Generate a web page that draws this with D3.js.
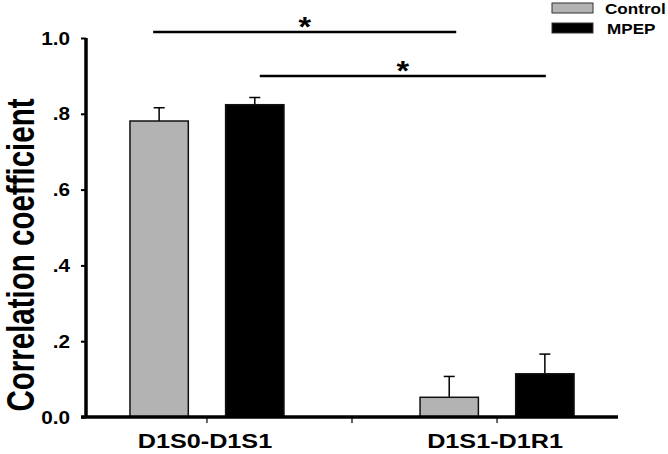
<!DOCTYPE html>
<html>
<head>
<meta charset="utf-8">
<script src="https://cdn.jsdelivr.net/npm/d3@7"></script>
<style>
  body { margin: 0; background: #fff; }
  svg { font-family: Arial, "Liberation Sans", sans-serif; font-weight: bold; }
</style>
</head>
<body>
<svg id="chart" width="668" height="454"></svg>
<script>
// data
const categories = ["D1S0-D1S1", "D1S1-D1R1"];
const series = ["Control", "MPEP"];
const colors = ["#b3b3b3", "#000000"];
const control = [0.781, 0.052];
const controlErr = [0.035, 0.055];
const mpep = [0.824, 0.114];
const mpepErr = [0.019, 0.052];
const yTicks = [0, 0.2, 0.4, 0.6, 0.8, 1.0];
const yTickLabels = ["0.0", ".2", ".4", ".6", ".8", "1.0"];
// significance brackets: which series, level of line
const sigSeries = ["Control", "MPEP"];
const sigLevel = [1.016, 0.900];

const svg = d3.select("#chart");
const x0 = 86, x1 = 618, yTop = 38, yBot = 417;

const y = d3.scaleLinear().domain([0, 1]).range([yBot, yTop]);
const x = d3.scalePoint().domain(categories).range([x0, x1]).padding(0.417);
const xSub = d3.scaleBand().domain(series).range([-77, 77]).paddingInner(0.39);

const rows = [];
categories.forEach((c, i) => {
    rows.push({cat: c, s: "Control", v: control[i], e: controlErr[i], col: colors[0]});
    rows.push({cat: c, s: "MPEP", v: mpep[i], e: mpepErr[i], col: colors[1]});
});

// text helper, glyphs a bit wide like the original figure
function wideText(g, tx, ty, str, size, anchor, sx) {
    return g.append("text")
        .attr("transform", `translate(${tx},${ty}) scale(${sx},1)`)
        .attr("text-anchor", anchor || "start")
        .attr("font-size", size)
        .text(str);
}

// error bars (upper only)
const err = svg.append("g").attr("stroke", "#000").attr("stroke-width", 1.5);
rows.forEach(d => {
    const cx = x(d.cat) + xSub(d.s) + xSub.bandwidth() / 2;
    err.append("line").attr("x1", cx).attr("x2", cx).attr("y1", y(d.v)).attr("y2", y(d.v + d.e));
    err.append("line").attr("x1", cx - 5.5).attr("x2", cx + 5.5).attr("y1", y(d.v + d.e)).attr("y2", y(d.v + d.e));
});

// bars
svg.append("g").selectAll("rect")
    .data(rows)
    .join("rect")
    .attr("x", d => x(d.cat) + xSub(d.s))
    .attr("y", d => y(d.v))
    .attr("width", xSub.bandwidth())
    .attr("height", d => y(0) - y(d.v))
    .attr("fill", d => d.col)
    .attr("stroke", "#111")
    .attr("stroke-width", 1.5);

// y axis
const yAxis = svg.append("g")
    .attr("transform", `translate(${x0},0)`)
    .call(d3.axisLeft(y).tickValues(yTicks).tickFormat("").tickSize(5));
yAxis.select(".domain").attr("stroke-width", 3.5).attr("d", `M0,${yTop}V${yBot}`);
yAxis.selectAll(".tick line").attr("stroke-width", 2);
yTicks.forEach((t, i) => {
    wideText(svg, x0 - 16, y(t) + 6.5, yTickLabels[i], 18, "end", 1.15);
});

// x axis with ticks at category centres and middle
const xTickVals = [x(categories[0]), (x(categories[0]) + x(categories[1])) / 2, x(categories[1])];
const xAxis = svg.append("g").attr("transform", `translate(0,${yBot})`);
xAxis.append("line").attr("x1", x0 - 5).attr("x2", x1).attr("stroke", "#000").attr("stroke-width", 3.5);
xAxis.selectAll(".xt").data(xTickVals).join("line")
    .attr("x1", d => d).attr("x2", d => d).attr("y1", 0).attr("y2", 6)
    .attr("stroke", "#000").attr("stroke-width", 1.2);
categories.forEach(c => wideText(xAxis, x(c) - 2, 31, c, 21, "middle", 1.2));

// y label
svg.append("text")
    .attr("transform", `translate(34,255) scale(1.3,1) rotate(-90)`)
    .attr("text-anchor", "middle")
    .attr("font-size", 29.5)
    .text("Correlation coefficient");

// significance lines
const sigPad = [[-6, 7], [5, 1]];
sigSeries.forEach((s, i) => {
    const xa = x(categories[0]) + xSub(s) + xSub.bandwidth() / 2 + sigPad[i][0];
    const xb = x(categories[1]) + xSub(s) + xSub.bandwidth() / 2 + sigPad[i][1];
    svg.append("line").attr("x1", xa).attr("x2", xb)
        .attr("y1", y(sigLevel[i])).attr("y2", y(sigLevel[i]))
        .attr("stroke", "#000").attr("stroke-width", 2.5);
    wideText(svg, (xa + xb) / 2, y(sigLevel[i]) + 4, "*", 27, "middle", 1.2);
});

// legend
const leg = svg.append("g").attr("transform", "translate(552,2)");
series.forEach((s, i) => {
    leg.append("rect").attr("x", 0).attr("y", i * 20 + 1).attr("width", 41).attr("height", 10)
        .attr("fill", colors[i]).attr("stroke", "#333").attr("stroke-width", 1);
    wideText(leg, 53 + i * 2, i * 20 + 11.5, s, 14.5, "start", 1.18);
});
</script>
</body>
</html>
